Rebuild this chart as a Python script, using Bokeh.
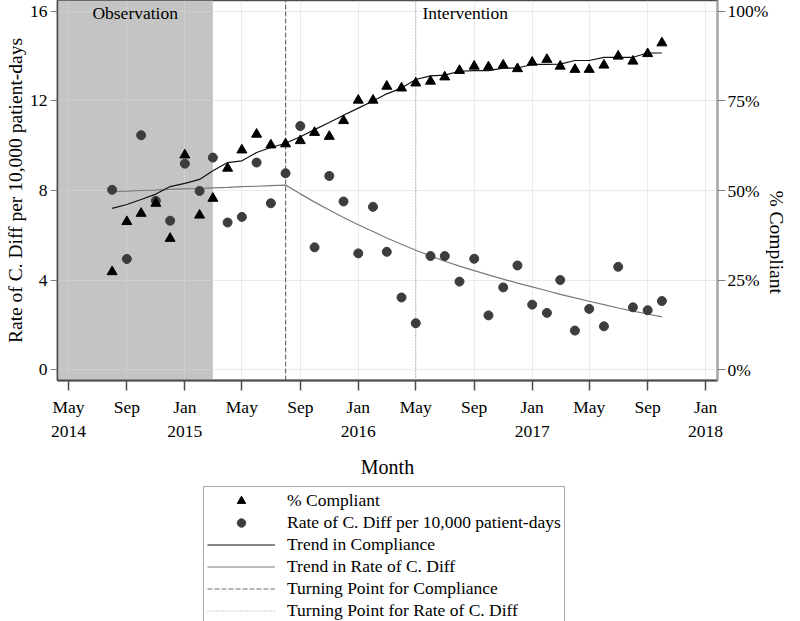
import math
import pandas as pd
from bokeh.plotting import figure
from bokeh.layouts import column
from bokeh.models import (Range1d, LinearAxis, FixedTicker, BoxAnnotation, Label,
                          Legend, LegendItem, CustomJSTickFormatter, ColumnDataSource)
from bokeh.embed import file_html
from bokeh.resources import INLINE

# ---------------- data ----------------
months = ["2014-08", "2014-09", "2014-10", "2014-11", "2014-12",
          "2015-01", "2015-02", "2015-03", "2015-04", "2015-05", "2015-06",
          "2015-07", "2015-08", "2015-09", "2015-10", "2015-11", "2015-12",
          "2016-01", "2016-02", "2016-03", "2016-04", "2016-05", "2016-06",
          "2016-07", "2016-08", "2016-09", "2016-10", "2016-11", "2016-12",
          "2017-01", "2017-02", "2017-03", "2017-04", "2017-05", "2017-06",
          "2017-07", "2017-08", "2017-09", "2017-10"]

pct_compliant = [27.3, 41.3, 43.6, 46.4, 36.6,
                 59.9, 43.1, 47.8, 56.2, 61.3, 65.7,
                 62.7, 63.0, 63.9, 66.2, 65.1, 69.5,
                 75.2, 75.2, 79.1, 78.6, 80.0, 80.5,
                 81.7, 83.5, 84.7, 84.5, 85.0, 84.0,
                 85.8, 86.6, 84.7, 83.8, 83.8, 85.0,
                 87.5, 86.1, 88.2, 91.2]

cdiff_rate = [8.03, 4.94, 10.47, 7.54, 6.65,
              9.20, 7.98, 9.47, 6.57, 6.82, 9.25,
              7.43, 8.77, 10.88, 5.46, 8.65, 7.51,
              5.19, 7.27, 5.26, 3.22, 2.07, 5.07,
              5.07, 3.93, 4.95, 2.42, 3.67, 4.65,
              2.90, 2.53, 4.00, 1.74, 2.71, 1.93,
              4.59, 2.78, 2.65, 3.06]

trend_compliance = [45.0, 46.1, 47.5, 49.0, 51.1,
                    52.0, 53.1, 55.5, 57.8, 58.3, 60.6,
                    62.0, 63.2, 65.0, 67.0, 69.0, 71.0,
                    73.0, 75.0, 77.0, 78.6, 81.0, 82.0,
                    82.2, 83.3, 83.5, 83.5, 84.2, 84.2,
                    85.2, 85.2, 85.3, 86.3, 86.3, 87.2,
                    87.2, 87.2, 88.4, 88.4]

trend_cdiff = [7.95, 7.97, 8.00, 8.02, 8.05,
               8.07, 8.09, 8.12, 8.14, 8.17, 8.19,
               8.22, 8.24, 7.85, 7.48, 7.13, 6.79,
               6.47, 6.17, 5.88, 5.60, 5.33, 5.08,
               4.84, 4.62, 4.42, 4.23, 4.04, 3.86,
               3.69, 3.52, 3.36, 3.20, 3.05, 2.90,
               2.75, 2.61, 2.48, 2.35]

x_tick_dates = ["2014-05-01", "2014-09-01", "2015-01-01", "2015-05-01",
                "2015-09-01", "2016-01-01", "2016-05-01", "2016-09-01",
                "2017-01-01", "2017-05-01", "2017-09-01", "2018-01-01"]
x_tick_labels = ["May\n2014", "Sep", "Jan\n2015", "May", "Sep", "Jan\n2016",
                 "May", "Sep", "Jan\n2017", "May", "Sep", "Jan\n2018"]
y_ticks = [0, 4, 8, 12, 16]
pct_ticks = [0, 25, 50, 75, 100]
pct_tick_labels = ["0%", "25%", "50%", "75%", "100%"]

observation_end = "2015-03-01"
turning_compliance = "2015-08-01"
turning_cdiff = "2016-05-01"

legend_labels = ["% Compliant",
                 "Rate of C. Diff per 10,000 patient-days",
                 "Trend in Compliance",
                 "Trend in Rate of C. Diff",
                 "Turning Point for Compliance",
                 "Turning Point for Rate of C. Diff"]

# ---------------- styling / layout ----------------
FONT = "Liberation Serif"
TRI = dict(marker="triangle", size=10, fill_color="black", line_color="black")
DOT = dict(marker="circle", size=9, fill_color="#3d3d3d", line_color="#3d3d3d")
TC_LINE = dict(line_color="#111111", line_width=1.2)
TR_LINE = dict(line_color="#7a7a7a", line_width=1.2)
TPC_LINE = dict(line_color="#6e6e6e", line_width=1.2, line_dash="5 2")
TPD_LINE = dict(line_color="#9a9a9a", line_width=1.2, line_dash="1 2")


def ms(d):
    return pd.Timestamp(d).value / 1e6


x_start, x_end = ms("2014-04-08"), ms("2018-01-26")
y_lo, y_hi = -0.49, 16.49
pct_lo, pct_hi = y_lo / 16 * 100, y_hi / 16 * 100

src = ColumnDataSource(dict(
    month=pd.to_datetime(months),
    pct=pct_compliant, rate=cdiff_rate,
    tc=trend_compliance, tr=trend_cdiff))

p = figure(width=800, height=486, title=None, x_axis_type="datetime",
           x_range=Range1d(x_start, x_end), y_range=Range1d(y_lo, y_hi),
           output_backend="svg", toolbar_location=None,
           min_border_left=57, min_border_right=81,
           min_border_top=0, min_border_bottom=106)
p.extra_y_ranges = {"pct": Range1d(pct_lo, pct_hi)}
p.background_fill_color = "white"
p.border_fill_color = "white"
p.outline_line_color = "#4d4d4d"
p.outline_line_width = 1.5

# observation shading (under the grid)
shade = BoxAnnotation(right=ms(observation_end), fill_color="#c4c4c4",
                      fill_alpha=1.0, line_color=None, level="underlay")
p.center = [shade] + list(p.center)

# axes
xtick_ms = [ms(d) for d in x_tick_dates]
p.xaxis.ticker = FixedTicker(ticks=xtick_ms)
p.xaxis.formatter = CustomJSTickFormatter(
    args=dict(tick_vals=xtick_ms, tick_text=x_tick_labels),
    code="""
    for (let i = 0; i < tick_vals.length; i++) {
        if (Math.abs(tick_vals[i] - tick) < 1e6) { return tick_text[i]; }
    }
    return '';
    """)
p.xaxis.axis_label = "Month"
p.yaxis.ticker = FixedTicker(ticks=y_ticks)
p.yaxis.axis_label = "Rate of C. Diff per 10,000 patient-days"

right = LinearAxis(y_range_name="pct", ticker=FixedTicker(ticks=pct_ticks),
                   major_label_overrides=dict(zip(pct_ticks, pct_tick_labels)),
                   axis_label="% Compliant")
right.axis_label_orientation = -math.pi / 2
p.add_layout(right, "right")

for ax in [p.xaxis[0], p.yaxis[0], right]:
    ax.major_label_text_font = FONT
    ax.major_label_text_font_size = "17.5px"
    ax.major_label_text_color = "black"
    ax.axis_label_text_font = FONT
    ax.axis_label_text_font_size = "19.5px"
    ax.axis_label_text_font_style = "normal"
    ax.axis_label_text_color = "black"
    ax.minor_tick_line_color = None
    ax.major_tick_in = 0

p.xaxis.axis_label_text_font_size = "20px"
p.xaxis.major_tick_out = 10
p.xaxis.major_label_standoff = 6
p.xaxis.axis_label_standoff = 12
p.xaxis.axis_line_color = "#4d4d4d"
p.xaxis.axis_line_width = 2
p.xaxis.major_tick_line_color = "#4d4d4d"
p.xaxis.major_tick_line_width = 1.5

p.yaxis[0].major_tick_out = 7
p.yaxis[0].major_label_standoff = 3
p.yaxis[0].axis_label_standoff = 1
p.yaxis[0].axis_line_color = "#4d4d4d"
p.yaxis[0].axis_line_width = 1.5
p.yaxis[0].major_tick_line_color = "#808080"

right.major_tick_out = 8
right.major_label_standoff = 2
right.axis_label_standoff = 5
right.axis_line_color = "#a6a6a6"
right.axis_line_width = 2
right.major_tick_line_color = "#808080"

for g in [p.xgrid[0], p.ygrid[0]]:
    g.grid_line_color = "#d8d8d8"
    g.grid_line_alpha = 0.5

# turning-point lines
p.segment(x0=[pd.Timestamp(turning_compliance)], x1=[pd.Timestamp(turning_compliance)],
          y0=[y_lo], y1=[y_hi], **TPC_LINE)
p.segment(x0=[pd.Timestamp(turning_cdiff)], x1=[pd.Timestamp(turning_cdiff)],
          y0=[y_lo], y1=[y_hi], **TPD_LINE)

# trends
p.line("month", "tr", source=src, **TR_LINE)
p.line("month", "tc", source=src, y_range_name="pct", **TC_LINE)

# points
p.scatter("month", "rate", source=src, **DOT)
p.scatter("month", "pct", source=src, y_range_name="pct", **TRI)

# phase labels
for txt, a, b in [("Observation", x_start, ms(observation_end)),
                  ("Intervention", ms(observation_end), x_end)]:
    p.add_layout(Label(x=(a + b) / 2, y=15.91, text=txt, text_align="center",
                       text_baseline="alphabetic", text_font=FONT,
                       text_font_size="17.5px", text_color="black"))

# ---------------- legend panel (separate strip under the chart) ----------------
pl = figure(width=800, height=135, title=None, output_backend="svg",
            toolbar_location=None, x_axis_location=None, y_axis_location=None,
            x_range=Range1d(0, 1), y_range=Range1d(0, 1),
            min_border_left=57, min_border_right=81, min_border_top=0,
            min_border_bottom=0)
pl.outline_line_color = None
pl.grid.visible = False
nan = float("nan")
lg_r = [
    pl.scatter(x=[nan], y=[nan], **TRI),
    pl.scatter(x=[nan], y=[nan], **DOT),
    pl.line(x=[nan, nan], y=[nan, nan], **TC_LINE),
    pl.line(x=[nan, nan], y=[nan, nan], **TR_LINE),
    pl.line(x=[nan, nan], y=[nan, nan], **TPC_LINE),
    pl.line(x=[nan, nan], y=[nan, nan], **TPD_LINE),
]
legend = Legend(items=[LegendItem(label=t, renderers=[r])
                       for t, r in zip(legend_labels, lg_r)],
                location=(146, -4), orientation="vertical", margin=0, padding=3,
                spacing=1, glyph_width=68, glyph_height=21, label_height=21,
                label_standoff=12, label_text_font=FONT,
                label_text_font_size="17.5px", label_text_color="black",
                border_line_color="#555555", border_line_width=1.5,
                background_fill_color="white", background_fill_alpha=1.0)
pl.add_layout(legend, "center")

layout = column(p, pl, spacing=0)
open("out.html", "w").write(file_html(layout, INLINE))
